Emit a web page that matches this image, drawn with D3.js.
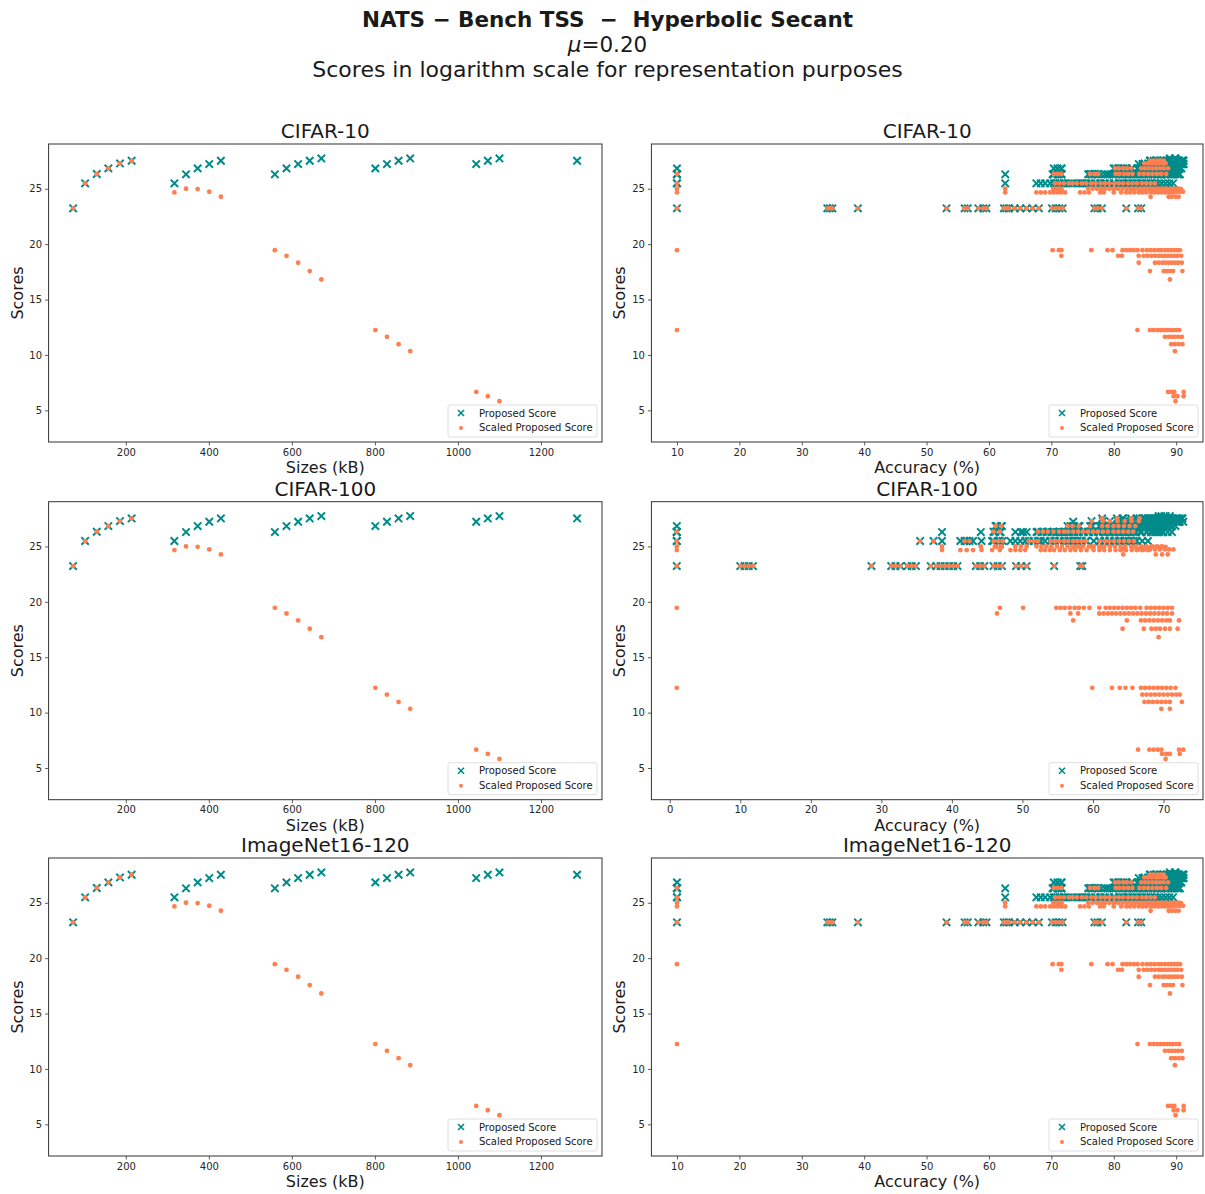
<!DOCTYPE html>
<html>
<head>
<meta charset="utf-8">
<script src="https://cdnjs.cloudflare.com/ajax/libs/d3/7.8.5/d3.min.js"></script>
<style>
body { margin: 0; background: #fff; }
text { font-family: "DejaVu Sans", sans-serif; fill: #1a1a1a; }
.tick text { font-size: 10px; fill: #262626; }
</style>
</head>
<body>
<script>
//
// data
//
var sizes = [73, 102, 130, 158, 186, 214, 317, 345, 373, 401, 429, 559, 587, 615, 643, 671, 801, 829, 857, 885, 1044, 1072, 1100, 1287];
var proposedScore = [23.23, 25.49, 26.33, 26.84, 27.29, 27.53, 25.49, 26.30, 26.84, 27.23, 27.53, 26.30, 26.84, 27.23, 27.53, 27.74, 26.84, 27.23, 27.53, 27.74, 27.23, 27.53, 27.74, 27.53];
var scaledScore = [23.23, 25.49, 26.33, 26.84, 27.29, 27.53, 24.67, 25.00, 24.97, 24.73, 24.28, 19.46, 18.95, 18.32, 17.57, 16.81, 12.24, 11.63, 10.97, 10.34, 6.66, 6.27, 5.82, 3.40];

// accuracies (%) of the architectures in each size group, same order as sizes
var cifar10Acc = [
  [10, 34.1, 34.5, 34.9, 39.0, 53.2, 56.1, 56.6, 58.3, 59.1, 59.6, 62.4, 62.8, 63.2, 64.1, 65.0, 66.0, 67.0, 68.0, 70.1, 70.7, 71.3, 71.8, 76.9, 77.4, 78.1, 82.0, 83.9, 84.4],
  [10, 70.6, 71.3, 72.0, 72.8, 73.4, 74.1, 74.9, 75.6, 76.4, 77.1, 77.9, 78.6, 79.3, 80.1, 80.8, 81.5, 82.3, 83.0, 83.7, 84.5, 85.2, 85.9, 86.6],
  [10, 70.4, 71.0, 71.6, 76.2, 76.9, 77.5, 80.3, 80.9, 81.6, 82.3, 83.0, 84.1, 84.8, 85.5, 86.2, 86.9, 87.6, 88.4],
  [80.2, 80.8, 81.5, 82.1, 82.8, 84.4, 85.0, 85.6, 86.2, 86.8, 87.4, 88.0, 88.7],
  [84.9, 85.5, 86.1, 86.7, 87.2, 87.8, 88.3],
  [85.8, 86.4, 87.0, 87.5, 88.0],
  [10, 62.6, 67.6, 68.3, 69.0, 69.8, 70.4, 71.0, 71.6, 72.2, 74.6, 75.3, 76.0, 77.8, 78.4, 80.0, 81.2, 82.0, 82.6, 83.3, 84.0, 84.6, 85.2, 85.9, 86.5, 87.1, 87.7, 88.3, 88.9, 89.5],
  [10, 62.6, 70.3, 71.0, 71.6, 75.9, 76.6, 77.3, 78.0, 78.6, 79.3, 80.0, 80.7, 81.4, 82.1, 82.8, 83.5, 84.2, 84.9, 85.6, 86.3, 87.0, 87.7, 88.4, 89.1, 89.8, 90.4],
  [70.4, 71.0, 71.6, 80.0, 82.9, 84.1, 85.3, 86.0, 86.6, 87.2, 87.8, 88.4, 89.0, 89.6, 90.2, 90.8],
  [84.6, 86.4, 87.0, 87.6, 88.1, 88.6, 89.1, 89.6, 90.1, 90.6, 91.1],
  [85.9, 88.8, 89.3, 89.9, 90.4],
  [10, 70.2, 71.2, 71.6, 76.4, 79.0, 79.8, 81.4, 82.0, 82.6, 83.2, 83.8, 84.6, 85.3, 85.9, 86.5, 87.1, 87.6, 88.2, 88.7, 89.2, 89.7, 90.2, 90.6],
  [71.6, 80.7, 81.3, 84.0, 84.8, 85.4, 86.0, 86.6, 87.2, 87.7, 88.2, 88.7, 89.2, 89.7, 90.2, 90.8],
  [84.0, 86.6, 87.2, 87.8, 88.3, 88.8, 89.3, 89.8, 90.3, 90.9],
  [85.8, 88.0, 88.5, 89.0, 89.5, 91.0],
  [89.0],
  [10, 83.8, 85.8, 86.4, 87.0, 87.5, 88.0, 88.5, 89.0, 89.5, 90.0, 90.5],
  [88.2, 88.8, 89.3, 89.8, 90.3, 90.9],
  [89.2, 89.8, 90.4, 91.0],
  [89.8],
  [88.7, 89.2, 89.7, 91.2],
  [89.6, 90.2, 91.2],
  [89.9],
  [86.8, 87.6, 88.4, 89.0, 89.5, 90.0, 90.5, 91.0]
];

var cifar100Acc = [
  [1.0, 10.0, 10.6, 11.2, 11.8, 28.6, 31.4, 32.0, 32.7, 33.7, 34.3, 34.9, 37.0, 37.8, 38.4, 39.0, 39.6, 40.2, 40.8, 43.4, 44.0, 44.6, 45.9, 46.5, 47.1, 49.1, 49.8, 50.6, 54.5, 58.2, 58.5],
  [1.0, 35.5, 37.4, 41.8, 42.5, 45.9, 46.6, 47.2, 50.9, 51.6, 52.2, 54.0, 54.6, 55.2, 55.9, 56.5, 57.2, 57.8, 58.4, 59.0, 61.0, 61.7, 62.3, 63.0, 63.7, 64.4, 65.1, 65.8],
  [1.0, 45.9, 46.8, 52.2, 52.9, 53.6, 54.4, 55.2, 55.9, 56.5, 57.2, 57.9, 58.6, 59.3, 60.0, 60.7, 61.4, 62.1, 62.9, 63.6, 64.3, 65.0, 65.7],
  [46.2, 47.0, 56.4, 57.1, 58.0, 59.6, 61.3, 62.1, 62.9, 63.6, 64.4, 65.2, 66.0],
  [59.8, 61.4, 62.4, 63.5, 64.5, 65.5, 66.5],
  [61.3, 63.4, 65.4, 66.6],
  [1.0, 38.6, 41.2, 42.1, 43.0, 44.2, 45.7, 46.8, 48.3, 49.0, 49.7, 50.4, 52.6, 53.2, 53.9, 54.5, 55.3, 56.0, 56.8, 57.5, 58.3, 59.1, 60.1, 60.9, 61.6, 62.4, 63.2, 63.9, 64.7, 65.5, 66.2, 67.0, 67.8],
  [1.0, 38.6, 44.1, 46.1, 46.9, 49.0, 49.8, 50.6, 52.0, 52.7, 53.4, 54.1, 54.9, 55.6, 56.4, 57.1, 57.9, 58.6, 59.4, 60.1, 60.9, 61.6, 62.4, 63.1, 63.9, 64.6, 65.4, 66.1, 66.9, 67.6, 68.4, 69.1, 69.8],
  [46.3, 47.1, 57.3, 58.1, 59.8, 61.1, 66.0, 66.8, 67.5, 68.2, 68.9, 69.6, 70.3],
  [64.3, 66.5, 67.3, 68.1, 68.8, 69.5, 70.2, 70.8, 71.4],
  [64.3, 68.9, 69.8, 70.6],
  [1.0, 46.8, 50.1, 54.8, 55.4, 56.0, 56.7, 57.4, 58.0, 58.7, 59.5, 60.9, 61.8, 62.4, 63.0, 63.6, 64.2, 64.8, 65.4, 66.0, 66.7, 67.6, 68.2, 68.8, 69.4, 70.0, 70.6, 71.2],
  [46.4, 56.8, 57.9, 60.9, 61.5, 62.1, 62.7, 63.3, 63.9, 64.5, 65.1, 65.7, 66.3, 66.9, 67.5, 68.1, 68.7, 69.3, 69.9, 70.5, 71.2],
  [57.2, 64.8, 66.8, 67.4, 68.0, 68.6, 69.2, 69.8, 70.4, 70.9, 72.2],
  [64.2, 67.2, 68.3, 68.9, 69.5, 70.2, 70.9, 72.0],
  [69.3],
  [1.0, 59.9, 62.7, 63.8, 64.6, 65.6, 66.8, 67.4, 68.0, 68.6, 69.2, 69.8, 70.4, 71.0, 71.7],
  [67.0, 67.6, 68.2, 68.8, 69.4, 70.0, 70.6, 71.2, 71.8, 72.3],
  [67.3, 67.9, 68.5, 69.1, 69.7, 70.3, 70.9, 72.6],
  [69.7, 70.9],
  [66.4, 68.0, 68.6, 69.2, 69.7, 72.2, 72.8],
  [69.8, 70.4, 70.9, 72.3],
  [70.3],
  [66.2, 67.0, 67.8, 68.5, 69.2, 69.9, 70.6, 71.3, 72.0, 72.7]
];

// the ImageNet16-120 accuracy panel of the reference is the same picture as CIFAR-10
var imagenetAcc = cifar10Acc;

var datasets = ["CIFAR-10", "CIFAR-100", "ImageNet16-120"];
var accByDataset = [cifar10Acc, cifar100Acc, imagenetAcc];
var accDomains = [[5.9, 94.3], [-2.6, 75.6], [5.9, 94.3]];
var accTicks = [[10, 20, 30, 40, 50, 60, 70, 80, 90], [0, 10, 20, 30, 40, 50, 60, 70], [10, 20, 30, 40, 50, 60, 70, 80, 90]];
var sizeDomain = [14, 1347];
var sizeTicks = [200, 400, 600, 800, 1000, 1200];
var scoreDomain = [2.14, 29.04];
var scoreTicks = [5, 10, 15, 20, 25];
var legendLabels = ["Proposed Score", "Scaled Proposed Score"];

var teal = "#008b8b";
var coral = "#ff7f50";

//
// layout
//
var W = 1205, H = 1194;
var colX = [48.6, 651.4];
var colW = [553.4, 551.6];
var rowY = [144, 501.7, 858];
var plotH = 298;

var svg = d3.select("body")
  .append("svg")
  .attr("width", W)
  .attr("height", H)
  ;

//
// suptitle
//
svg.append("text")
  .attr("x", W / 2 + 5)
  .attr("y", 27)
  .attr("text-anchor", "middle")
  .attr("font-size", 21.5)
  .attr("font-weight", "bold")
  .style("white-space", "pre")
  .text("NATS \u2212 Bench TSS  \u2212  Hyperbolic Secant")
  ;
var mu = svg.append("text")
  .attr("x", W / 2 + 5)
  .attr("y", 52)
  .attr("text-anchor", "middle")
  .attr("font-size", 21.5)
  ;
mu.append("tspan").attr("font-style", "italic").text("\u03bc");
mu.append("tspan").text("=0.20");
svg.append("text")
  .attr("x", W / 2 + 5)
  .attr("y", 77)
  .attr("text-anchor", "middle")
  .attr("font-size", 22)
  .text("Scores in logarithm scale for representation purposes")
  ;

//
// marker helpers
//
var crossPath = "M-3.7,-3.7L3.7,3.7M-3.7,3.7L3.7,-3.7";

addCrosses = function(g, pts) {
  g.append("g").selectAll("path")
    .data(pts)
    .join("path")
    .attr("d", crossPath)
    .attr("transform", function(d) { return "translate(" + d[0] + "," + d[1] + ")"; })
    .attr("stroke", teal)
    .attr("stroke-width", 2)
    .attr("fill", "none")
    ;
}

addDots = function(g, pts) {
  g.append("g").selectAll("circle")
    .data(pts)
    .join("circle")
    .attr("cx", function(d) { return d[0]; })
    .attr("cy", function(d) { return d[1]; })
    .attr("r", 2.4)
    .attr("fill", coral)
    ;
}

addLegend = function(g, w, h) {
  var lw = 149, lh = 32;
  var lg = g.append("g").attr("transform", "translate(" + (w - lw - 5) + "," + (h - lh - 5) + ")");
  lg.append("rect")
    .attr("width", lw)
    .attr("height", lh)
    .attr("rx", 2)
    .attr("fill", "#fff")
    .attr("stroke", "#d6d6d6")
    .attr("stroke-width", 0.8)
    ;
  lg.append("path")
    .attr("d", "M-3,-3L3,3M-3,3L3,-3")
    .attr("transform", "translate(13,8)")
    .attr("stroke", teal)
    .attr("stroke-width", 1.6)
    ;
  lg.append("circle")
    .attr("cx", 13)
    .attr("cy", 23)
    .attr("r", 2)
    .attr("fill", coral)
    ;
  lg.selectAll("text.leg")
    .data(legendLabels)
    .join("text")
    .attr("class", "leg")
    .attr("x", 31)
    .attr("y", function(d, i) { return 11.5 + i * 14.5; })
    .attr("font-size", 10)
    .attr("fill", "#262626")
    .text(function(d) { return d; })
    ;
}

//
// one panel
//
drawPanel = function(col, row, xDomain, xTicks, xs, tealY, coralY, title, xLabel) {
  var w = colW[col], h = plotH;
  var g = svg.append("g").attr("transform", "translate(" + colX[col] + "," + rowY[row] + ")");
  var x = d3.scaleLinear().domain(xDomain).range([0, w]);
  var y = d3.scaleLinear().domain(scoreDomain).range([h, 0]);

  var xAxis = g.append("g")
    .attr("transform", "translate(0," + h + ")")
    .call(d3.axisBottom(x).tickValues(xTicks).tickFormat(d3.format("d")).tickSize(3.5).tickPadding(3));
  var yAxis = g.append("g")
    .call(d3.axisLeft(y).tickValues(scoreTicks).tickFormat(d3.format("d")).tickSize(3.5).tickPadding(3));
  xAxis.select(".domain").remove();
  yAxis.select(".domain").remove();
  g.selectAll(".tick line").attr("stroke", "#333").attr("stroke-width", 0.8);

  var tealPts = xs.map(function(v, i) { return [x(v), y(tealY[i])]; });
  var coralPts = xs.map(function(v, i) { return [x(v), y(coralY[i])]; });
  addCrosses(g, tealPts);
  addDots(g, coralPts);

  g.append("rect")
    .attr("width", w)
    .attr("height", h)
    .attr("fill", "none")
    .attr("stroke", "#333")
    .attr("stroke-width", 1)
    ;

  addLegend(g, w, h);

  g.append("text")
    .attr("x", w / 2)
    .attr("y", -6)
    .attr("text-anchor", "middle")
    .attr("font-size", 20)
    .text(title)
    ;
  g.append("text")
    .attr("x", w / 2)
    .attr("y", h + 31)
    .attr("text-anchor", "middle")
    .attr("font-size", 16)
    .text(xLabel)
    ;
  g.append("text")
    .attr("transform", "translate(-26," + (h / 2) + ") rotate(-90)")
    .attr("text-anchor", "middle")
    .attr("font-size", 16)
    .text("Scores")
    ;
}

datasets.forEach(function(name, row) {
  // left: sizes vs scores
  drawPanel(0, row, sizeDomain, sizeTicks, sizes, proposedScore, scaledScore, name, "Sizes (kB)");

  // right: accuracy vs scores, one point per architecture
  var accs = [], tY = [], cY = [];
  accByDataset[row].forEach(function(list, gi) {
    list.forEach(function(a) {
      accs.push(a);
      tY.push(proposedScore[gi]);
      cY.push(scaledScore[gi]);
    });
  });
  drawPanel(1, row, accDomains[row], accTicks[row], accs, tY, cY, name, "Accuracy (%)");
});
</script>
</body>
</html>
